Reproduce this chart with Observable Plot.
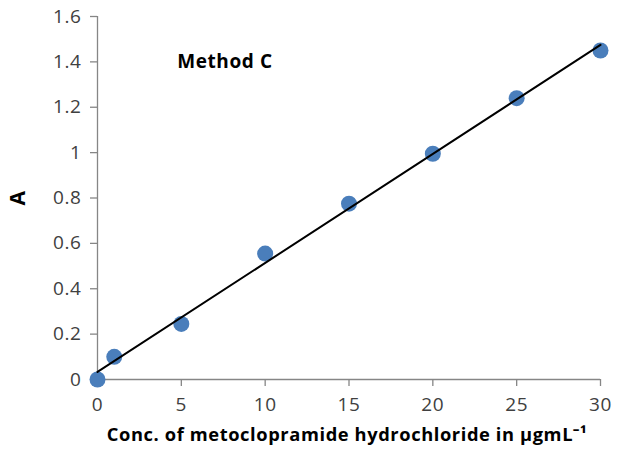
<!DOCTYPE html>
<html>
<head>
<meta charset="utf-8">
<script src="https://cdn.jsdelivr.net/npm/d3@7"></script>
<script src="https://cdn.jsdelivr.net/npm/@observablehq/plot@0.6"></script>
<style>
  html, body { margin: 0; padding: 0; background: #fff; }
  #chart svg { display: block; }
</style>
</head>
<body>
<div id="chart"></div>
<script>
const conc = [0, 1, 5, 10, 15, 20, 25, 30];
const absorbance = [0, 0.1, 0.245, 0.555, 0.775, 0.995, 1.24, 1.45];
const xTicks = [0, 5, 10, 15, 20, 25, 30];
const yTicks = [0, 0.2, 0.4, 0.6, 0.8, 1, 1.2, 1.4, 1.6];
const xTitle = "Conc. of metoclopramide hydrochloride in μgmL⁻¹";
const yTitle = "A";
const annotation = "Method C";

const data = conc.map((c, i) => ({conc: c, A: absorbance[i]}));
const font = "'Open Sans', sans-serif";
const axisColor = "#868686";

const chart = Plot.plot({
  width: 624,
  height: 450,
  marginLeft: 97,
  marginRight: 24,
  marginTop: 16,
  marginBottom: 71,
  style: {fontFamily: font, background: "#fff", overflow: "visible", letterSpacing: "0.6px"},
  x: {domain: [0, 30], ticks: xTicks},
  y: {domain: [0, 1.6], ticks: yTicks},
  marks: [
    Plot.ruleX([0], {stroke: axisColor, strokeWidth: 1.3}),
    Plot.ruleY([0], {stroke: axisColor, strokeWidth: 1.3}),
    Plot.axisX({ticks: xTicks, tickSize: 7, stroke: axisColor, strokeWidth: 1.3, tickPadding: 11, fontSize: 19, color: "#404040", label: null, tickFormat: d => String(d)}),
    Plot.axisY({ticks: yTicks, tickSize: 7, stroke: axisColor, strokeWidth: 1.3, tickPadding: 9, fontSize: 19, color: "#404040", label: null, tickFormat: d => String(d)}),
    Plot.dot(data, {x: "conc", y: "A", r: 8, fill: "#4a7ebb", stroke: "none", clip: false}),
    Plot.linearRegressionY(data, {x: "conc", y: "A", ci: 0, stroke: "#000", strokeWidth: 2}),
    Plot.text([annotation], {x: 7.6, y: 1.40, text: d => d, fontSize: 19, fontWeight: "bold", fill: "#000"}),
    Plot.text([xTitle], {frameAnchor: "bottom", dy: 61, dx: -2, text: d => d, fontSize: 18.3, fontWeight: "bold", fill: "#000"}),
    Plot.text([yTitle], {frameAnchor: "left", dx: -79, rotate: -90, textAnchor: "middle", text: d => d, fontSize: 21, fontWeight: "bold", fill: "#000"})
  ]
});
document.getElementById("chart").appendChild(chart);
</script>
</body>
</html>
